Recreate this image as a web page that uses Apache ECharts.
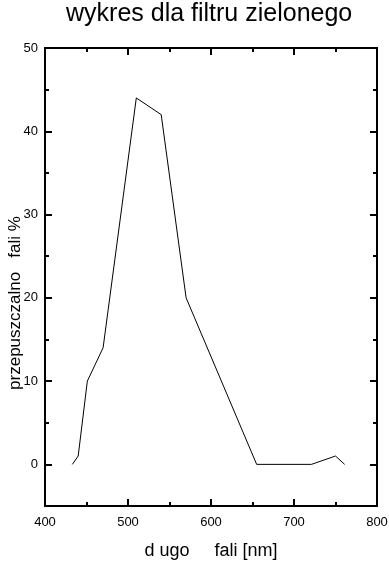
<!DOCTYPE html>
<html>
<head>
<meta charset="utf-8">
<script src="https://cdn.jsdelivr.net/npm/echarts@6/dist/echarts.min.js"></script>
<style>
html,body{margin:0;padding:0;background:#fff;}
#chart{width:389px;height:562px;}
</style>
</head>
<body>
<div id="chart"></div>
<script>
var titleText = 'wykres dla filtru zielonego';
var xName = 'd ugo     fali [nm]';
var yName = 'przepuszczalno   fali %';
var wavelengths = [433, 440, 451, 470, 510, 540, 570, 655, 721, 750, 761];
var transmission = [0, 1, 10, 14, 44, 42, 20, 0, 0, 1, 0];
var yMajorTicks = [0, 10, 20, 30, 40, 50];
var yMinorTicks = [-5, 5, 15, 25, 35, 45];

var FONT = '"Liberation Sans", Arial, sans-serif';
var black = '#000';

var chart = echarts.init(document.getElementById('chart'), null, {renderer: 'canvas'});

function yAx(pos, ticks, len, labels, name) {
  return {
    type: 'value', position: pos, min: -5, max: 50,
    gridIndex: 0,
    name: name || '',
    nameLocation: 'middle',
    nameGap: 21,
    nameMoveOverlap: false,
    nameTextStyle: {fontFamily: FONT, fontSize: 17, color: black, padding: [0, 52, 0, 0]},
    axisLine: {show: true, onZero: false, lineStyle: {color: black, width: 2}},
    axisTick: {show: true, inside: true, length: len, customValues: ticks, lineStyle: {color: black, width: 2}},
    axisLabel: labels ? {show: true, customValues: ticks, margin: 7, fontFamily: FONT, fontSize: 13, color: black} : {show: false},
    splitLine: {show: false}
  };
}

var data = wavelengths.map(function (w, i) { return [w, transmission[i]]; });

chart.setOption({
  animation: false,
  backgroundColor: '#fff',
  title: {
    text: titleText,
    left: 66, top: 2, padding: 0,
    textStyle: {fontFamily: FONT, fontSize: 25, fontWeight: 'normal', color: black}
  },
  grid: {left: 45, right: 12, top: 48, bottom: 56, containLabel: false, outerBoundsMode: 'none'},
  xAxis: [
    {
      type: 'value', position: 'bottom', min: 400, max: 800, interval: 100,
      name: xName, nameLocation: 'middle', nameGap: 36, nameMoveOverlap: false,
      nameTextStyle: {fontFamily: FONT, fontSize: 18, color: black},
      axisLine: {show: true, onZero: false, lineStyle: {color: black, width: 2}},
      axisTick: {show: true, inside: true, length: 7, lineStyle: {color: black, width: 2}},
      minorTick: {show: true, splitNumber: 2, length: 4, lineStyle: {color: black, width: 2}},
      axisLabel: {margin: 10, fontFamily: FONT, fontSize: 13, color: black},
      splitLine: {show: false}, minorSplitLine: {show: false}
    },
    {
      type: 'value', position: 'top', min: 400, max: 800, interval: 100,
      axisLine: {show: true, onZero: false, lineStyle: {color: black, width: 2}},
      axisTick: {show: true, inside: true, length: 7, lineStyle: {color: black, width: 2}},
      minorTick: {show: true, splitNumber: 2, length: 4, lineStyle: {color: black, width: 2}},
      axisLabel: {show: false},
      splitLine: {show: false}, minorSplitLine: {show: false}
    }
  ],
  yAxis: [
    yAx('left', yMajorTicks, 7, true, yName),
    yAx('left', yMinorTicks, 4, false),
    yAx('right', yMajorTicks, 7, false),
    yAx('right', yMinorTicks, 4, false)
  ],
  series: [{
    type: 'line',
    data: data,
    xAxisIndex: 0, yAxisIndex: 0,
    showSymbol: false, symbol: 'none',
    lineStyle: {color: black, width: 1},
    silent: true
  }]
});
</script>
</body>
</html>
